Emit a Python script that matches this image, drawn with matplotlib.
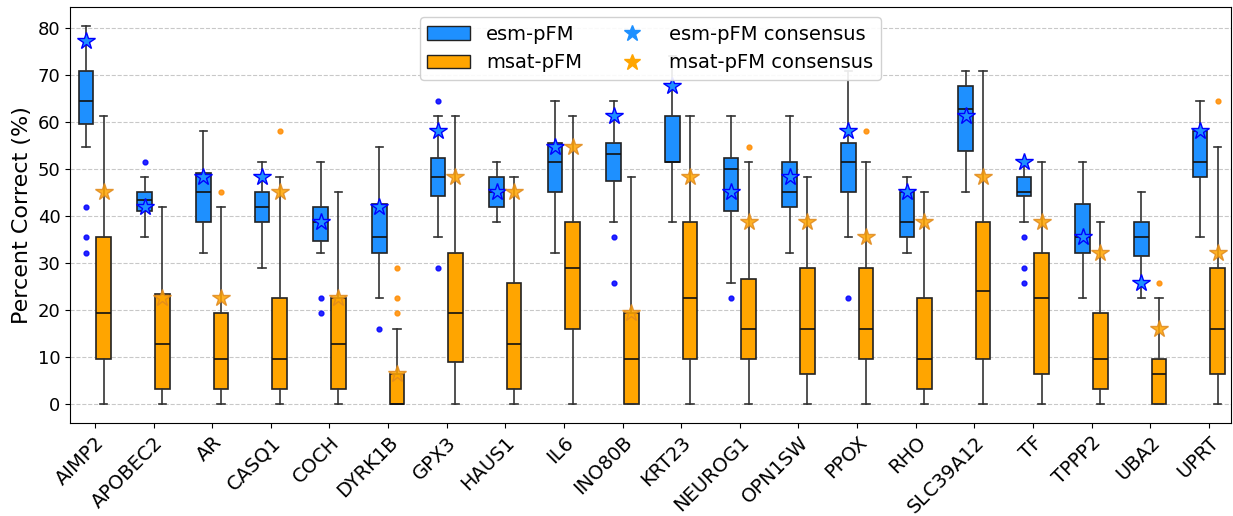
import numpy as np
import matplotlib
matplotlib.use('Agg')
import matplotlib.pyplot as plt
from matplotlib.patches import Patch
from matplotlib.lines import Line2D

genes = ['AIMP2', 'APOBEC2', 'AR', 'CASQ1', 'COCH', 'DYRK1B', 'GPX3', 'HAUS1', 'IL6', 'INO80B',
         'KRT23', 'NEUROG1', 'OPN1SW', 'PPOX', 'RHO', 'SLC39A12', 'TF', 'TPPP2', 'UBA2', 'UPRT']

# esm-pFM box stats (percent correct)
esm_whislo = [54.8, 35.5, 32.3, 29.0, 32.3, 22.6, 35.5, 38.7, 32.3, 38.7,
              38.7, 25.8, 32.3, 35.5, 32.3, 45.2, 38.7, 22.6, 22.6, 35.5]
esm_q1 = [59.7, 41.1, 38.7, 38.7, 34.7, 32.3, 44.4, 41.9, 45.2, 47.6,
          51.6, 41.1, 41.9, 45.2, 35.5, 54.0, 44.4, 32.3, 31.5, 48.4]
esm_med = [64.5, 43.5, 45.2, 41.9, 38.7, 35.5, 48.4, 45.2, 51.6, 53.2,
           51.6, 50.0, 45.2, 51.6, 38.7, 62.9, 45.2, 35.5, 35.5, 51.6]
esm_q3 = [71.0, 45.2, 49.2, 45.2, 41.9, 42.7, 52.4, 48.4, 55.6, 55.6,
          61.3, 52.4, 51.6, 55.6, 45.2, 67.7, 48.4, 42.7, 38.7, 58.1]
esm_whishi = [80.6, 48.4, 58.1, 51.6, 51.6, 54.8, 61.3, 51.6, 64.5, 64.5,
              74.2, 61.3, 61.3, 71.0, 48.4, 71.0, 51.6, 51.6, 45.2, 64.5]
esm_fliers = [[41.9, 35.5, 32.3], [51.6], [], [], [22.6, 19.4], [16.1], [64.5, 29.0], [], [], [35.5, 25.8],
              [], [22.6], [], [22.6], [], [], [35.5, 29.0, 25.8], [], [], []]
esm_consensus = [77.4, 41.9, 48.4, 48.4, 38.7, 41.9, 58.1, 45.2, 54.8, 61.3,
                 67.7, 45.2, 48.4, 58.1, 45.2, 61.3, 51.6, 35.5, 25.8, 58.1]

# msat-pFM box stats
msat_whislo = [0.0] * 20
msat_q1 = [9.7, 3.2, 3.2, 3.2, 3.2, 0.0, 8.9, 3.2, 16.1, 0.0,
           9.7, 9.7, 6.5, 9.7, 3.2, 9.7, 6.5, 3.2, 0.0, 6.5]
msat_med = [19.4, 12.9, 9.7, 9.7, 12.9, 0.0, 19.4, 12.9, 29.0, 9.7,
            22.6, 16.1, 16.1, 16.1, 9.7, 24.2, 22.6, 9.7, 6.5, 16.1]
msat_q3 = [35.5, 23.4, 19.4, 22.6, 22.6, 6.5, 32.3, 25.8, 38.7, 19.4,
           38.7, 26.6, 29.0, 29.0, 22.6, 38.7, 32.3, 19.4, 9.7, 29.0]
msat_whishi = [61.3, 41.9, 41.9, 48.4, 45.2, 16.1, 61.3, 48.4, 61.3, 48.4,
               61.3, 51.6, 48.4, 51.6, 45.2, 71.0, 51.6, 38.7, 22.6, 54.8]
msat_fliers = [[], [], [45.2], [58.1], [], [29.0, 22.6, 19.4], [], [], [], [],
               [], [54.8], [], [58.1], [], [], [], [], [25.8], [64.5]]
msat_consensus = [45.2, 22.6, 22.6, 45.2, 22.6, 6.5, 48.4, 45.2, 54.8, 19.4,
                  48.4, 38.7, 38.7, 35.5, 38.7, 48.4, 38.7, 32.3, 16.1, 32.3]


def make_stats(lo, q1, med, q3, hi, fl):
    return [dict(whislo=a, q1=b, med=c, q3=d, whishi=e, fliers=f)
            for a, b, c, d, e, f in zip(lo, q1, med, q3, hi, fl)]


def draw(ax, stats, pos, face, flier_color):
    ax.bxp(stats, positions=pos, widths=0.25, patch_artist=True, manage_ticks=False,
           boxprops=dict(facecolor=face, edgecolor='#222222', linewidth=1.2),
           medianprops=dict(color='#111111', linewidth=1.2),
           whiskerprops=dict(color='#333333', linewidth=1.2),
           capprops=dict(color='#333333', linewidth=1.2),
           flierprops=dict(marker='o', markersize=3.5, markerfacecolor=flier_color,
                           markeredgecolor=flier_color, alpha=0.85))


x = np.arange(len(genes))
fig, ax = plt.subplots(figsize=(12.33, 5.16), dpi=100)
ax.grid(axis='y', linestyle='--', color='#bbbbbb', alpha=0.8, zorder=0)
ax.set_axisbelow(True)

draw(ax, make_stats(esm_whislo, esm_q1, esm_med, esm_q3, esm_whishi, esm_fliers), x - 0.15, 'dodgerblue', 'blue')
draw(ax, make_stats(msat_whislo, msat_q1, msat_med, msat_q3, msat_whishi, msat_fliers), x + 0.15, 'orange', 'darkorange')

ax.plot(x - 0.15, esm_consensus, linestyle='none', marker='*', markersize=13,
        markerfacecolor='dodgerblue', markeredgecolor='blue', markeredgewidth=1.0, zorder=5)
ax.plot(x + 0.15, msat_consensus, linestyle='none', marker='*', markersize=13,
        markerfacecolor='orange', markeredgecolor='#e08a1e', markeredgewidth=1.0, alpha=0.85, zorder=5)

ax.set_xticks(x)
ax.set_xticklabels(genes, rotation=45, ha='right', rotation_mode='anchor', fontsize=14)
ax.tick_params(axis='y', labelsize=13)
ax.set_ylabel('Percent Correct (%)', fontsize=16)
ax.set_xlim(-0.42, 19.37)
ax.set_ylim(-4, 84.5)

handles = [Patch(facecolor='dodgerblue', edgecolor='#222222', label='esm-pFM'),
           Patch(facecolor='orange', edgecolor='#222222', label='msat-pFM'),
           Line2D([], [], linestyle='none', marker='*', markersize=12, color='dodgerblue', label='esm-pFM consensus'),
           Line2D([], [], linestyle='none', marker='*', markersize=12, color='orange', label='msat-pFM consensus')]
ax.legend(handles=handles, loc='upper center', ncol=2, fontsize=14, bbox_to_anchor=(0.5, 1.0),
          framealpha=0.9, handlelength=2.2, columnspacing=1.5)

plt.subplots_adjust(left=0.057, right=0.998, top=0.986, bottom=0.18)
plt.savefig('out.png')
